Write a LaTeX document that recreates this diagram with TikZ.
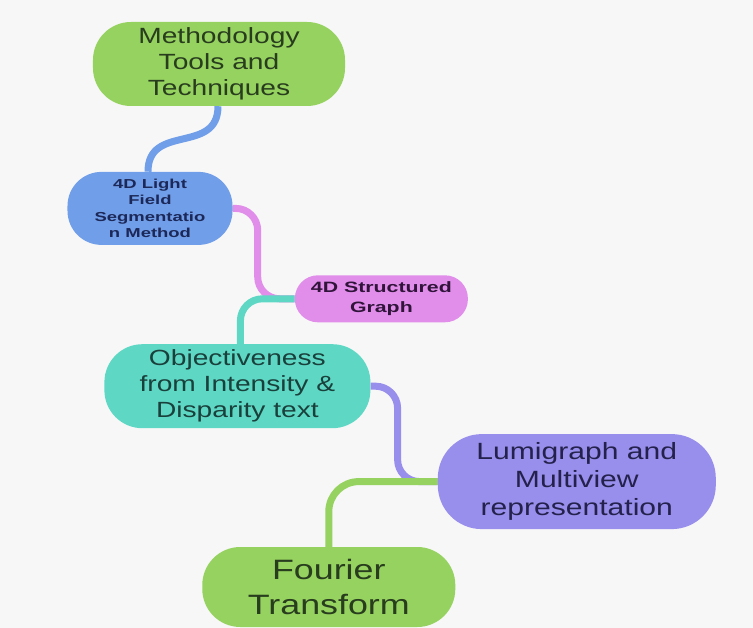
\documentclass[tikz,border=0pt]{standalone}
\usepackage{fontspec}
\setmainfont{Liberation Sans}[FakeStretch=1.28]
\newfontfamily\widebold{Liberation Sans}[FakeStretch=1.42]
\usetikzlibrary{positioning, backgrounds}

\definecolor{leafgreen}{RGB}{150,210,95}
\definecolor{skyblue}{RGB}{112,158,232}
\definecolor{orchid}{RGB}{225,142,235}
\definecolor{aqua}{RGB}{94,216,196}
\definecolor{lavender}{RGB}{152,142,235}
\definecolor{greentext}{RGB}{40,60,30}
\definecolor{bluetext}{RGB}{28,40,88}
\definecolor{orchidtext}{RGB}{48,20,58}
\definecolor{aquatext}{RGB}{26,64,60}
\definecolor{lavtext}{RGB}{36,34,76}

\begin{document}
\begin{tikzpicture}[
    x=1bp, y=1bp,
    bigbox/.style={rectangle, rounded corners=38bp, align=center, inner sep=2bp, font=\fontsize{22bp}{26bp}\selectfont},
    smallbox/.style={rectangle, rounded corners=23bp, align=center, inner sep=1bp, font=\fontsize{13bp}{16.3bp}\selectfont\widebold\bfseries},
    link/.style={line width=7bp, rounded corners=22bp},
]

% ============ Frame ============
\useasboundingbox (-219,64) rectangle (534,-564);

% ============ Topics ============
\node[bigbox, fill=leafgreen, text=greentext, minimum width=252bp, minimum height=84bp] (method) at (0,0) {Methodology\\Tools and\\Techniques};

\node[smallbox, fill=skyblue, text=bluetext, rounded corners=34bp, minimum width=165bp, minimum height=73bp, below=65.5bp of method, xshift=-69bp] (lightfield) {4D Light\\Field\\Segmentatio\\n Method};

\node[smallbox, fill=orchid, text=orchidtext, font=\fontsize{15bp}{20bp}\selectfont\widebold\bfseries, minimum width=173bp, minimum height=47bp, below right=30bp and 62bp of lightfield] (graph) {4D Structured\\Graph};

\node[bigbox, fill=aqua, text=aquatext, minimum width=266bp, minimum height=84bp, below=21.5bp of graph, xshift=-144bp] (objective) {Objectiveness\\from Intensity \&\\Disparity text};

\node[bigbox, fill=lavender, text=lavtext, rounded corners=44bp, font=\fontsize{23.5bp}{28bp}\selectfont, minimum width=278bp, minimum height=95bp, below right=5.5bp and 67bp of objective] (lumigraph) {Lumigraph and\\Multiview\\representation};

\node[bigbox, fill=leafgreen, text=greentext, font=\fontsize{28bp}{35bp}\selectfont, minimum width=253bp, minimum height=80bp, below=17.5bp of lumigraph, xshift=-248bp] (fourier) {Fourier\\Transform};

% ============ Background and links ============
\begin{scope}[on background layer]
    \fill[white!97!black] (-219,64) rectangle (534,-564);
    \draw[link, draw=skyblue] ([xshift=-1bp]method.south) to[out=-90, in=90, looseness=1.3] ([xshift=-2bp]lightfield.north);
    \draw[link, draw=orchid] (lightfield.east) -- ++(25,0) |- (graph.west);
    \draw[link, draw=aqua] (graph.west) -| ([xshift=3bp]objective.north);
    \draw[link, draw=lavender] (objective.east) -- ++(27,0) |- (lumigraph.west);
    \draw[link, draw=leafgreen, rounded corners=30bp] (lumigraph.west) -| (fourier.north);
\end{scope}

\end{tikzpicture}
\end{document}
